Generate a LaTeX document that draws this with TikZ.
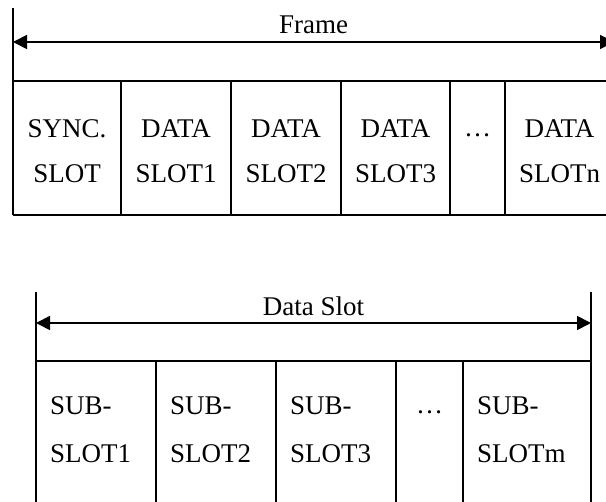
\documentclass[tikz,border=0pt]{standalone}
\usepackage{fontspec}
\setmainfont{Liberation Serif}
\usetikzlibrary{arrows.meta}
\begin{document}
\begin{tikzpicture}[x=1pt,y=-1pt,
  rule/.style={line width=2.2pt},
  span/.style={line width=1.7pt,
    {Triangle[length=14pt,width=14pt]}-{Triangle[length=14pt,width=14pt]}},
  lbl/.style={font=\fontsize{27}{45}\selectfont, inner sep=0pt},
  ctext/.style={lbl, align=center},
  ltext/.style={font=\fontsize{27}{48}\selectfont, inner sep=0pt, align=left, anchor=west},
]
\useasboundingbox (0,0) rectangle (606,502);
\clip (0,0) rectangle (606,502);

% ---------------- frame layout ----------------
\coordinate (fL) at (13,42);
\coordinate (fR) at (614,42);
\draw[rule] (13,8) -- (13,215);
\draw[rule] (13,81) -- (614,81);
\draw[rule] (13,215) -- (614,215);
\foreach \x in {121,231,341,450,505}
  \draw[rule] (\x,81) -- (\x,215);
\draw[span] (fL) -- (fR);
\node[lbl, anchor=base] (frame) at (313.5,34) {Frame};

\node[ctext] (sync) at (67,151)    {SYNC.\\SLOT};
\node[ctext] (d1)   at (176,151)   {DATA\\SLOT1};
\node[ctext] (d2)   at (286,151)   {DATA\\SLOT2};
\node[ctext] (d3)   at (395.5,151) {DATA\\SLOT3};
\node[lbl, anchor=base] (fdots) at (477.5,137) {…};
\node[ctext] (dn)   at (559.5,151) {DATA\\SLOTn};

% ---------------- data slot layout ----------------
\coordinate (sL) at (36,323);
\coordinate (sR) at (591,323);
\draw[rule] (36,292) -- (36,510);
\draw[rule] (591,292) -- (591,510);
\draw[rule] (36,361) -- (591,361);
\foreach \x in {156,276,396,463}
  \draw[rule] (\x,361) -- (\x,510);
\draw[span] (sL) -- (sR);
\node[lbl, anchor=base] (dslot) at (313.5,316) {Data Slot};

\node[ltext] (s1) at (50,430)  {SUB-\\SLOT1};
\node[ltext] (s2) at (170,430) {SUB-\\SLOT2};
\node[ltext] (s3) at (290,430) {SUB-\\SLOT3};
\node[lbl, anchor=base] (sdots) at (429.5,414) {…};
\node[ltext] (sm) at (477,430) {SUB-\\SLOTm};
\end{tikzpicture}
\end{document}
